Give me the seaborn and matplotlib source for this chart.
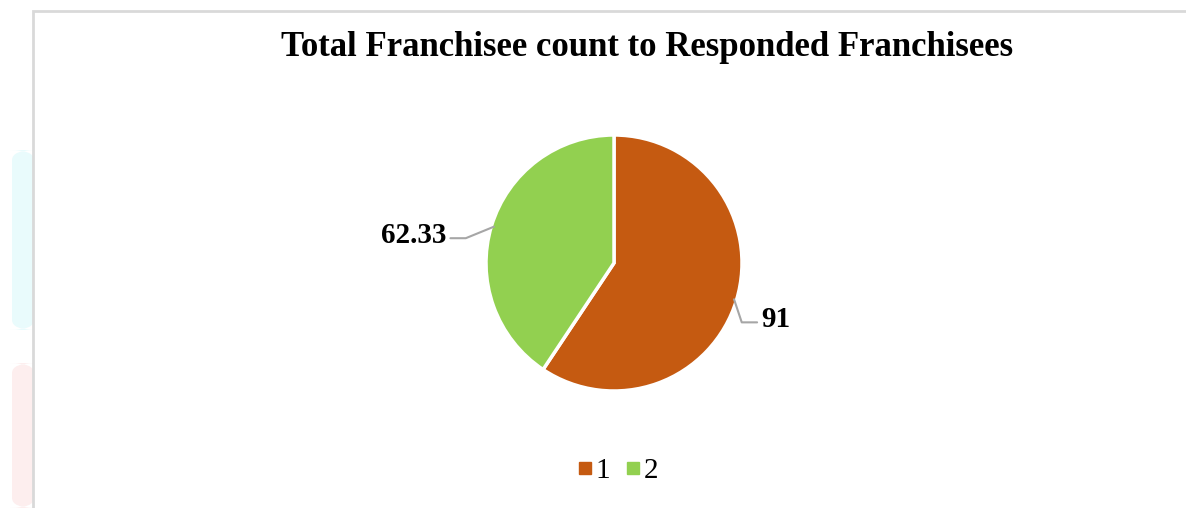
import numpy as np
import seaborn as sns
import matplotlib.pyplot as plt
from matplotlib.lines import Line2D
from matplotlib.patches import Rectangle, FancyBboxPatch

sns.set_theme(style="white")
plt.rcParams['font.family'] = ['Liberation Serif', 'DejaVu Serif']

# data
categories = ["1", "2"]
values = [91, 62.33]
value_labels = ["91", "62.33"]
colors = ["#C55A11", "#92D050"]
title = "Total Franchisee count to Responded Franchisees"

W, H = 1186, 508
fig = plt.figure(figsize=(W / 100, H / 100), dpi=100)
fig.patch.set_facecolor("white")

# faint watermark shapes at the left edge
fig.patches.append(FancyBboxPatch((12 / W, 1 - 330 / H), 22 / W, 180 / H, boxstyle="round,pad=0,rounding_size=0.02",
                                  transform=fig.transFigure, facecolor="#e9fbfc", edgecolor="none", zorder=-3))
fig.patches.append(FancyBboxPatch((12 / W, 0), 22 / W, 145 / H, boxstyle="round,pad=0,rounding_size=0.02",
                                  transform=fig.transFigure, facecolor="#fdeeee", edgecolor="none", zorder=-3))

# chart frame
fig.patches.append(Rectangle((33 / W, -0.01), 1.2, 1 - 11 / H + 0.01, transform=fig.transFigure,
                             facecolor="white", edgecolor="#d9d9d9", linewidth=2, zorder=-2))

# pie
cx, cy, r = 614, 263, 128
ax = fig.add_axes([(cx - r) / W, (H - cy - r) / H, 2 * r / W, 2 * r / H])
wedges, _ = ax.pie(values, colors=colors, startangle=90, counterclock=False, radius=1,
                   wedgeprops=dict(edgecolor="white", linewidth=2.5))
ax.set_xlim(-1, 1)
ax.set_ylim(-1, 1)
ax.set_aspect("equal")
ax.axis("off")

# data labels with leader lines
tot = sum(values)
start = 90.0
for val, lab in zip(values, value_labels):
    span = 360 * val / tot
    mid = np.deg2rad(start - span / 2)
    start -= span
    x0, y0 = np.cos(mid) * 0.98, np.sin(mid) * 0.98
    if x0 > 0:
        pts = [(x0, y0), (x0 + 0.06, y0 - 0.18), (x0 + 0.18, y0 - 0.18)]
        ax.plot(*zip(*pts), color="#a6a6a6", lw=1.5, clip_on=False)
        ax.text(pts[-1][0] + 0.03, pts[-1][1] + 0.02, lab, ha="left", va="center",
                fontsize=21, fontweight="bold", color="black")
    else:
        pts = [(x0, y0), (x0 - 0.22, y0 - 0.09), (x0 - 0.34, y0 - 0.09)]
        ax.plot(*zip(*pts), color="#a6a6a6", lw=1.5, clip_on=False)
        ax.text(pts[-1][0] - 0.03, pts[-1][1] + 0.02, lab, ha="right", va="center",
                fontsize=21, fontweight="bold", color="black")

fig.text(647 / W, 1 - 47 / H, title, ha="center", va="center", fontsize=25, fontweight="bold", color="black")

handles = [Line2D([], [], marker="s", linestyle="none", markersize=8, markerfacecolor=c, markeredgecolor=c)
           for c in colors]
fig.legend(handles, categories, loc="center", bbox_to_anchor=(617 / W, 1 - 471 / H), ncol=2, frameon=False,
           fontsize=21, handletextpad=0.05, columnspacing=0.5, handlelength=0.6, labelcolor="black")

fig.savefig("out.png", dpi=100, facecolor="white")
